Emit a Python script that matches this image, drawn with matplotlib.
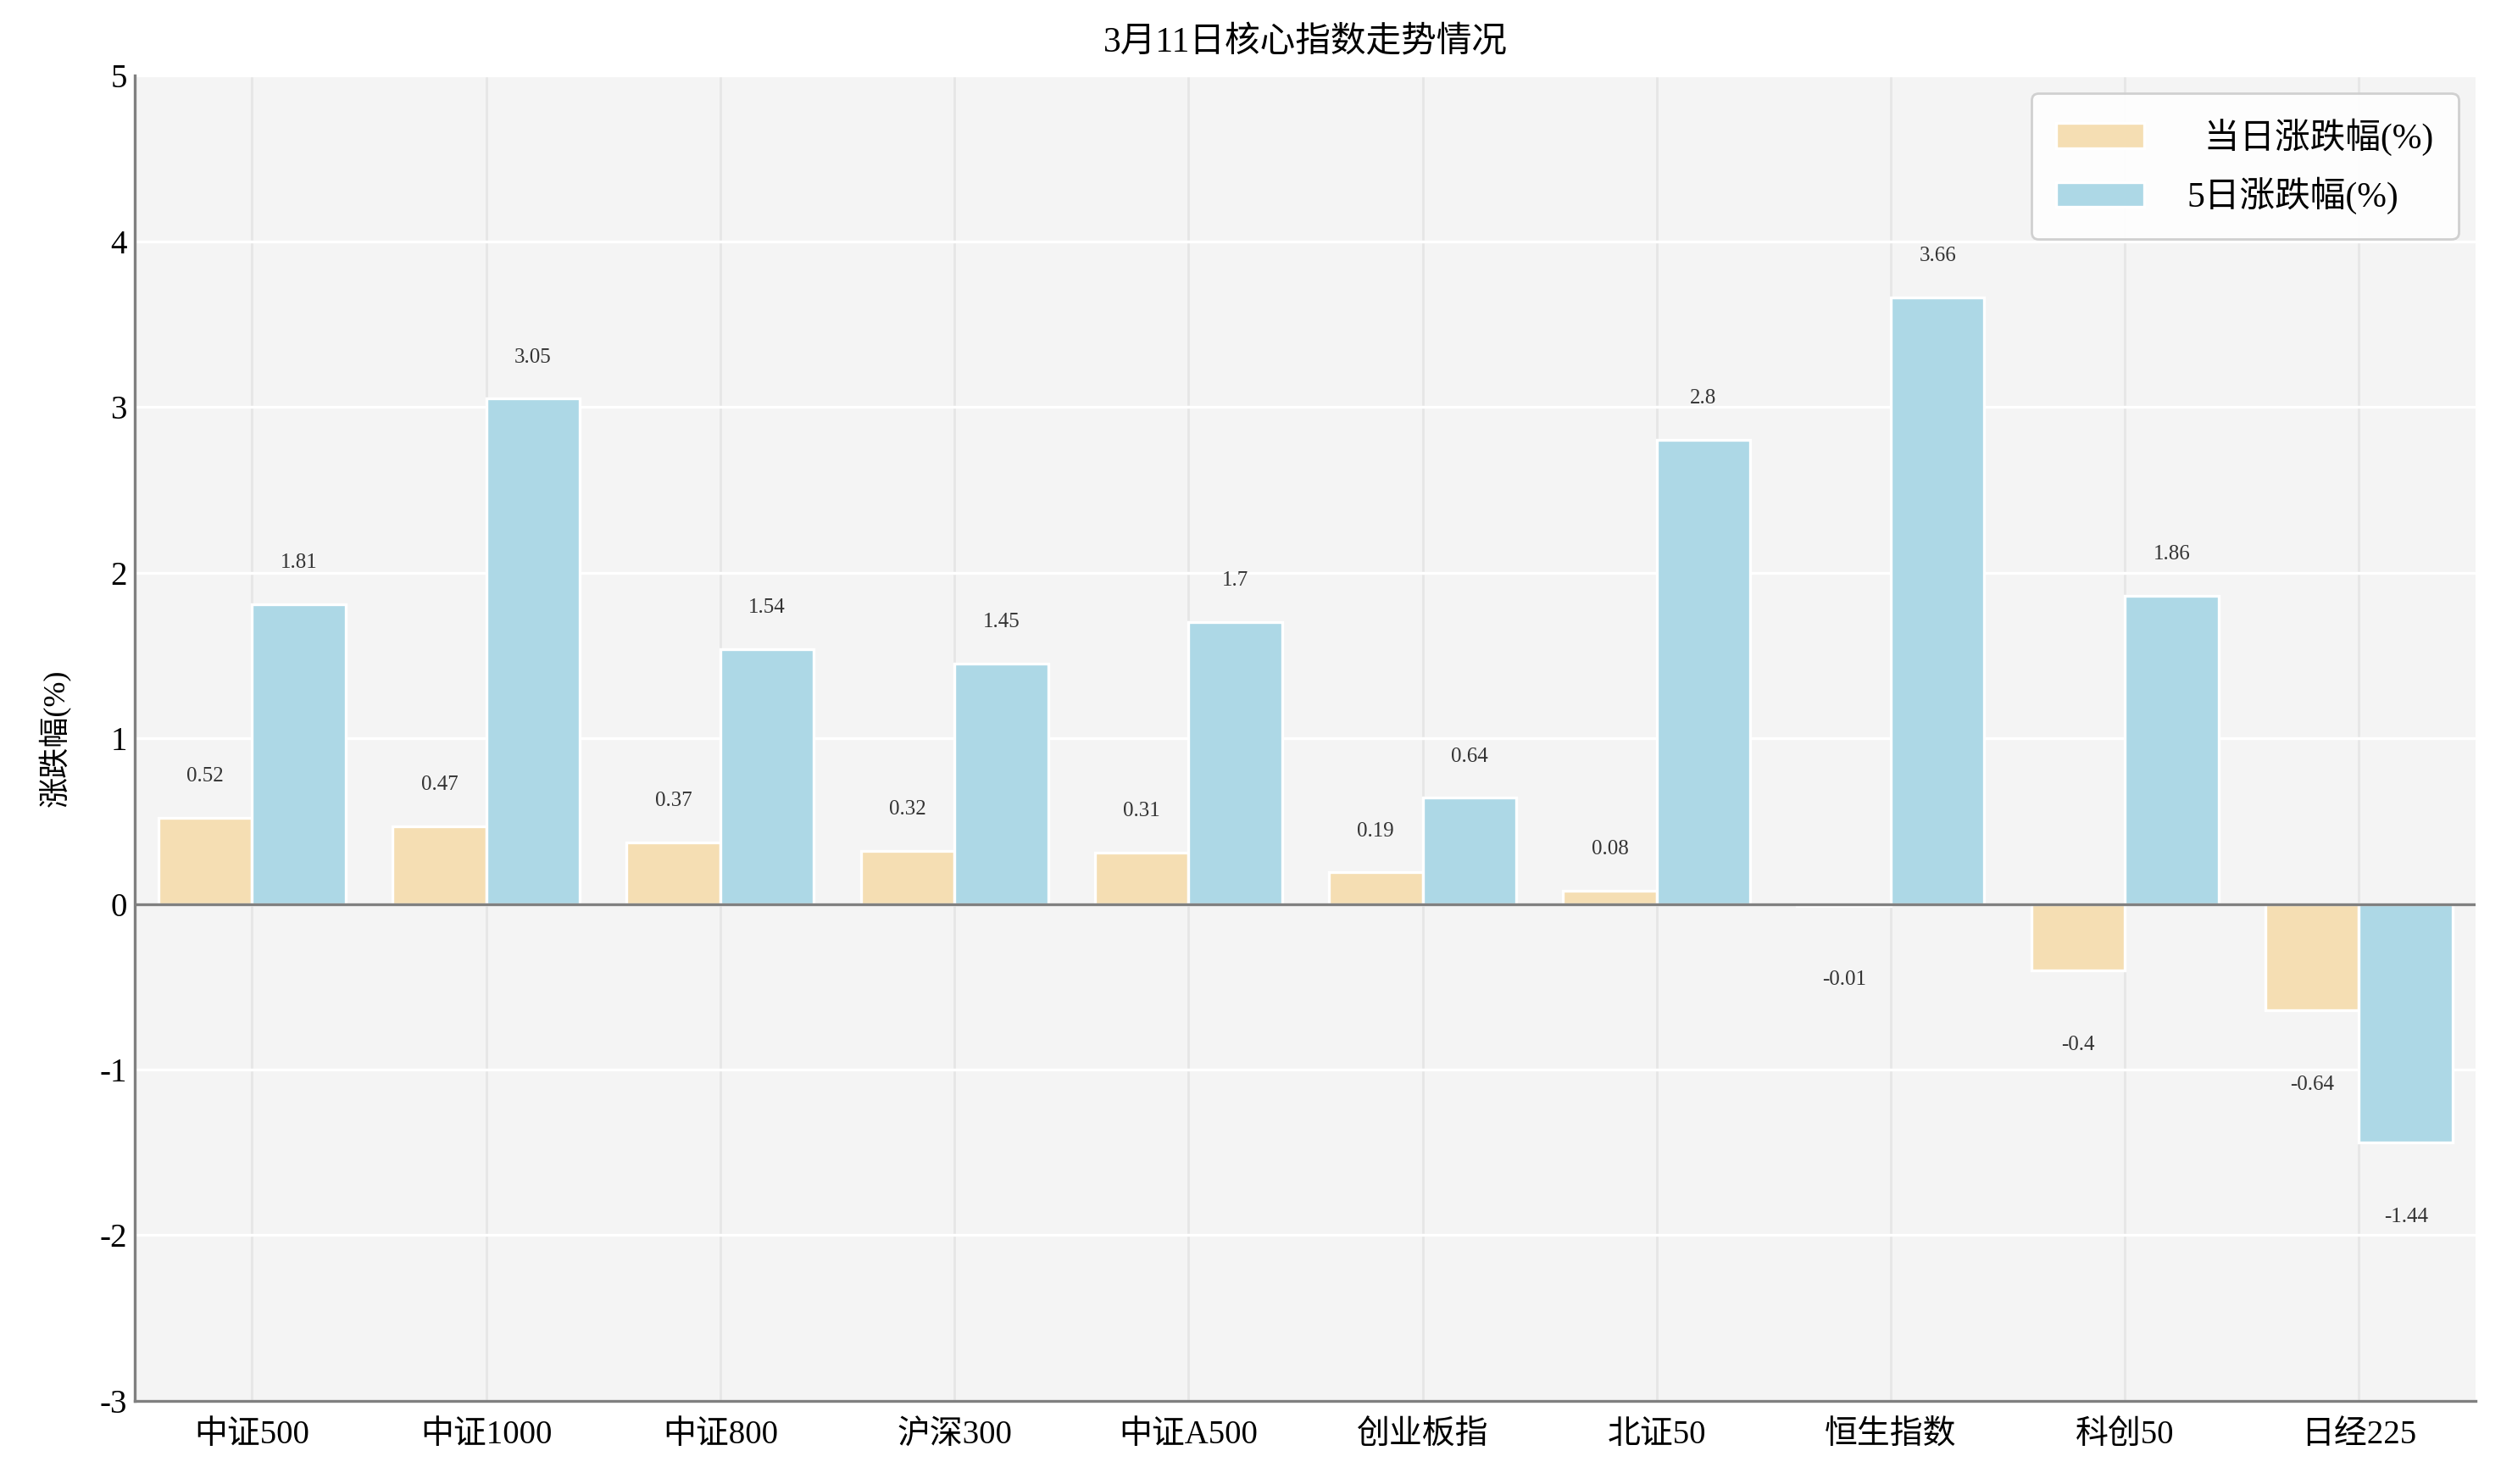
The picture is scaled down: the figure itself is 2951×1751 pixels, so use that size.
import matplotlib
matplotlib.use("Agg")
import matplotlib.pyplot as plt
import numpy as np

plt.rcParams['font.family'] = ['Liberation Serif', 'Noto Sans CJK SC', 'DejaVu Sans']
plt.rcParams['axes.unicode_minus'] = False

categories = ["中证500", "中证1000", "中证800", "沪深300", "中证A500",
              "创业板指", "北证50", "恒生指数", "科创50", "日经225"]
day_change = [0.52, 0.47, 0.37, 0.32, 0.31, 0.19, 0.08, -0.01, -0.4, -0.64]
week_change = [1.81, 3.05, 1.54, 1.45, 1.7, 0.64, 2.8, 3.66, 1.86, -1.44]

x = np.arange(len(categories))
w = 0.4

fig, ax = plt.subplots(figsize=(14.755, 8.755), dpi=200)
ax.set_facecolor("#f4f4f4")

ax.bar(x - w / 2, day_change, w, color="#F5DEB3", edgecolor="white", linewidth=1.2,
       label="  当日涨跌幅(%)", zorder=2)
ax.bar(x + w / 2, week_change, w, color="#ADD8E6", edgecolor="white", linewidth=1.2,
       label="5日涨跌幅(%)", zorder=2)

for xs, vals in [(x - w / 2, day_change), (x + w / 2, week_change)]:
    for xi, v in zip(xs, vals):
        y = v + 0.25 if v >= 0 else v - 0.45
        ax.text(xi, y, f"{v:g}", ha="center", va="center", fontsize=9, color="#333333", zorder=4)

ax.axhline(0, color="#808080", linewidth=1.2, zorder=3)

ax.set_xlim(-0.5, 9.5)
ax.set_ylim(-3, 5)
ax.set_xticks(x)
ax.set_xticklabels(categories, fontsize=14)
ax.set_yticks(range(-3, 6))
ax.tick_params(axis="y", labelsize=14, length=0)
ax.tick_params(axis="x", length=0, pad=8)

ax.grid(axis="y", color="white", linewidth=1.2)
ax.grid(axis="x", color="#e6e6e6", linewidth=1)
ax.set_axisbelow(True)

for s in ["top", "right"]:
    ax.spines[s].set_visible(False)
for s in ["left", "bottom"]:
    ax.spines[s].set_color("#808080")
    ax.spines[s].set_linewidth(1.2)

ax.set_ylabel("涨跌幅(%)", fontsize=13, labelpad=12)
ax.set_title("3月11日核心指数走势情况", fontsize=15, pad=10)
leg = ax.legend(loc="upper right", fontsize=15, fancybox=True, framealpha=0.9,
                edgecolor="#cccccc", borderpad=0.7, labelspacing=0.6,
                handlelength=2.5, handletextpad=1.2)

plt.subplots_adjust(left=0.054, right=0.99, top=0.949, bottom=0.056)
plt.savefig("out.png", dpi=200)
